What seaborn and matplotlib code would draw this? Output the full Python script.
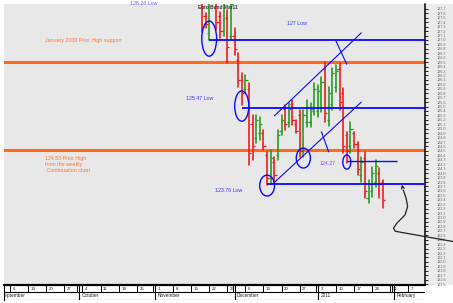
import numpy as np
import pandas as pd
import matplotlib
matplotlib.use("Agg")
import matplotlib.pyplot as plt
from matplotlib.patches import Ellipse, Rectangle
import seaborn as sns

# ---------------- data ----------------
dates = ["2010-11-18", "2010-11-19", "2010-11-22", "2010-11-24", "2010-11-25", "2010-11-26",
         "2010-11-29", "2010-11-30", "2010-12-01", "2010-12-02", "2010-12-03", "2010-12-06",
         "2010-12-07", "2010-12-08", "2010-12-09", "2010-12-10", "2010-12-13", "2010-12-14",
         "2010-12-15", "2010-12-16", "2010-12-17", "2010-12-20", "2010-12-21", "2010-12-22",
         "2010-12-23", "2010-12-24", "2010-12-27", "2010-12-28", "2010-12-29", "2010-12-30",
         "2010-12-31", "2011-01-03", "2011-01-04", "2011-01-05", "2011-01-06", "2011-01-07",
         "2011-01-10", "2011-01-11", "2011-01-12", "2011-01-13", "2011-01-14", "2011-01-17",
         "2011-01-18", "2011-01-19", "2011-01-20", "2011-01-21", "2011-01-24", "2011-01-25",
         "2011-01-26", "2011-01-27"]
highs = [128.10, 127.61, 128.20, 128.00, 127.63, 128.20,
         127.68, 128.00, 127.27, 126.71, 126.26, 126.21,
         126.03, 125.31, 125.31, 125.27, 124.97, 124.48,
         124.52, 124.36, 124.97, 125.31, 125.54, 125.58,
         125.65, 125.20, 125.42, 125.42, 125.65, 125.58,
         126.03, 125.99, 126.17, 126.50, 125.94, 126.37,
         126.44, 126.48, 125.92, 124.93, 125.15, 124.93,
         124.70, 124.36, 124.48, 123.85, 124.14, 124.30,
         124.12, 123.85]
lows = [127.18, 127.27, 127.00, 127.23, 127.05, 127.08,
        126.48, 127.02, 126.66, 125.94, 125.54, 125.81,
        124.18, 124.30, 124.68, 124.75, 124.52, 123.73,
        123.76, 123.78, 124.30, 124.86, 124.97, 125.04,
        125.09, 124.90, 124.36, 124.36, 125.04, 125.04,
        125.31, 125.27, 125.38, 125.15, 125.06, 125.42,
        125.83, 125.42, 124.46, 124.23, 124.46, 124.57,
        123.96, 123.80, 123.44, 123.33, 123.46, 123.69,
        123.44, 123.22]
opens = [127.95, 127.55, 127.15, 127.90, 127.55, 127.20,
         127.50, 127.10, 127.10, 126.55, 126.10, 125.90,
         125.90, 125.10, 124.80, 124.90, 124.90, 124.40,
         123.90, 124.25, 124.40, 124.95, 125.45, 125.15,
         125.55, 125.10, 125.30, 124.50, 125.15, 125.15,
         125.40, 125.40, 125.50, 126.35, 125.20, 125.55,
         125.95, 126.35, 125.80, 124.85, 124.60, 124.90,
         124.65, 123.95, 124.35, 123.45, 123.60, 123.80,
         124.00, 123.80]
closes = [127.30, 127.35, 127.90, 127.40, 127.20, 127.95,
          126.85, 127.80, 126.80, 126.10, 125.80, 126.10,
          124.45, 124.60, 125.20, 125.10, 124.60, 123.90,
          124.35, 123.95, 124.85, 125.20, 125.10, 125.45,
          125.20, 124.95, 124.50, 125.30, 125.50, 125.45,
          125.90, 125.85, 126.05, 125.35, 125.80, 126.25,
          126.30, 125.60, 124.60, 124.50, 125.00, 124.65,
          124.10, 124.25, 123.60, 123.75, 124.00, 124.15,
          123.75, 123.40]

axis_start = "2010-09-06"
week_dates = pd.date_range("2010-09-06", "2011-02-07", freq="7D")
week_labels = [str(d.day) for d in week_dates]
month_names = ["September", "October", "November", "December", "2011", "February"]
month_starts = ["2010-09-01", "2010-10-01", "2010-11-01", "2010-12-01", "2011-01-03", "2011-02-01"]

orange_levels = [126.50, 124.53]
blue_levels = [127.00, 125.47, 123.76]
blue_level_from = ["2010-11-22", "2010-12-03", "2010-12-14"]
short_level = 124.27
short_level_span = ["2011-01-13", "2011-02-01"]

# ---------------- helpers ----------------
def bidx(d):
    return float(np.busday_count(np.datetime64(axis_start), np.datetime64(d)))

x = np.array([bidx(d) for d in dates])
direction = np.where(np.array(closes) >= np.array(opens), "up", "down")

XMIN, XMAX = -1.66, 114.6
YMIN, YMAX = 121.48, 127.81

RED = "#f01414"
GREEN = "#1c9a1c"
ORANGE = "#ff6a1f"
BLUE = "#0a0aff"
TXT_BLUE = "#3535ff"
TXT_ORANGE = "#ff7433"

sns.set_style("white")
plt.rcParams["font.family"] = ["Liberation Sans", "DejaVu Sans"]

W, H = 453, 303
fig = plt.figure(figsize=(W / 100, H / 100), dpi=100, facecolor="white")
# tick-label strip background
fig.add_artist(Rectangle((425 / W, 18 / H), 28 / W, 281 / H, transform=fig.transFigure,
                         facecolor="#ebebeb", edgecolor="none", zorder=-5))

ax = fig.add_axes([4 / W, 18 / H, 421 / W, 281 / H])
ax.set_facecolor("#e8e8e8")
ax.set_xlim(XMIN, XMAX)
ax.set_ylim(YMIN, YMAX)

# orange support lines
for lv in orange_levels:
    ax.axhline(lv, color=ORANGE, lw=2.2, zorder=2)

# OHLC bars (high-low ranges via seaborn)
long = pd.DataFrame({
    "x": np.concatenate([x, x]),
    "price": np.concatenate([highs, lows]),
    "bar": np.concatenate([np.arange(len(x)), np.arange(len(x))]),
    "dir": np.concatenate([direction, direction]),
})
sns.lineplot(data=long, x="x", y="price", hue="dir", units="bar", estimator=None,
             palette={"up": GREEN, "down": RED}, legend=False, lw=1.15, ax=ax, zorder=3)
cols = [GREEN if d == "up" else RED for d in direction]
ax.hlines(opens, x - 0.6, x, colors=cols, lw=0.9, zorder=3)
ax.hlines(closes, x, x + 0.6, colors=cols, lw=0.9, zorder=3)

# blue horizontal levels
for lv, d0 in zip(blue_levels, blue_level_from):
    ax.hlines(lv, bidx(d0), XMAX, colors=BLUE, lw=1.3, zorder=4)
ax.hlines(short_level, bidx(short_level_span[0]), bidx(short_level_span[1]) + 0.8,
          colors=BLUE, lw=1.0, zorder=4)

# ellipses
ell = [("2010-11-22", 127.03, 4.1, 0.79), ("2010-12-03", 125.51, 3.9, 0.68),
       ("2010-12-14", 123.72, 4.1, 0.47), ("2010-12-28", 124.34, 3.9, 0.45),
       ("2011-01-13", 124.25, 2.2, 0.32)]
for d, p, w, h in ell:
    ax.add_patch(Ellipse((bidx(d), p), w, h, fill=False, edgecolor=BLUE, lw=1.0, zorder=5))

# trend channel
trend = [(("2010-12-16", 125.29), ("2011-01-19", 127.16)),
         (("2010-12-16", 123.79), ("2011-01-19", 125.60)),
         (("2011-01-10", 126.98), ("2011-01-13", 126.45)),
         (("2011-01-04", 124.93), ("2011-01-06", 124.48))]
for (d0, p0), (d1, p1) in trend:
    ax.plot([bidx(d0), bidx(d1)], [p0, p1], color=BLUE, lw=0.8, zorder=5)

# curved arrow
arrow_x = [122.3, 106.4, 105.9, 106.8, 109.1, 109.8, 109.4, 108.6]
arrow_y = [122.46, 122.69, 122.76, 122.87, 123.06, 123.25, 123.43, 123.62]
ax.plot(arrow_x, arrow_y, color="#222222", lw=0.9, clip_on=False, zorder=6)
ax.annotate("", xy=(108.2, 123.74), xytext=(arrow_x[-1], arrow_y[-1]),
            arrowprops=dict(arrowstyle="->", color="#222222", lw=0.9, mutation_scale=5),
            annotation_clip=False, zorder=6)

# texts
fs = 3.8
ax.text(9.7, 126.98, "January 2009 Prior High support", color=TXT_ORANGE, fontsize=fs,
        ha="left", va="center")
ax.text(9.7, 124.39, "124.53 Prior High\nfrom the weekly\n Continuation chart", color=TXT_ORANGE,
        fontsize=fs, ha="left", va="top", linespacing=1.25)
ax.text(48.6, 125.69, "125.47 Low", color=TXT_BLUE, fontsize=fs, ha="left", va="center")
ax.text(76.5, 127.38, "127 Low", color=TXT_BLUE, fontsize=fs, ha="left", va="center")
ax.text(56.6, 123.62, "123.76 Low", color=TXT_BLUE, fontsize=fs, ha="left", va="center")
ax.text(85.4, 124.21, "124.27", color="#8a3cff", fontsize=fs, ha="left", va="center")
ax.text(33.1, 127.82, "128.28 Low", color="#7a5cff", fontsize=fs, ha="left", va="center",
        clip_on=False)
ax.text(51.9, 127.74, "Euro Bund Mar11", color="#333333", fontsize=3.4, ha="left",
        va="center", fontweight="bold", zorder=7)

# right price axis
for s in ["left", "top", "bottom"]:
    ax.spines[s].set_visible(False)
ax.spines["right"].set_color("black")
ax.spines["right"].set_linewidth(1.1)
ax.yaxis.tick_right()
yt = np.round(np.arange(121.5, 127.75, 0.1), 1)
ax.set_yticks(yt)
ax.set_yticklabels([f"{v:.1f}" for v in yt])
ax.tick_params(axis="y", direction="out", length=2.2, width=0.6, pad=6, labelsize=2.7,
               labelcolor="#666666", colors="black")
ax.tick_params(axis="y", labelcolor="#666666")
ax.set_xticks([])
ax.set_xlabel("")
ax.set_ylabel("")

# date axis boxes
ax2 = fig.add_axes([4 / W, 3 / H, 421 / W, 15 / H])
ax2.set_facecolor("white")
ax2.set_xlim(XMIN, XMAX)
ax2.set_ylim(0, 2)
ax2.set_xticks([])
ax2.set_yticks([])
for s in ["top", "right", "bottom"]:
    ax2.spines[s].set_visible(False)
ax2.spines["left"].set_linewidth(0.8)
ax2.spines["left"].set_color("black")
ax2.axhline(2, color="black", lw=1.6, clip_on=False)
ax2.axhline(1.07, color="black", lw=0.8)
ax2.axhline(0.05, color="black", lw=0.8)
for d, lab in zip(week_dates, week_labels):
    wx = bidx(d.strftime("%Y-%m-%d"))
    ax2.vlines(wx, 1.07, 2, color="black", lw=0.7)
    ax2.text(wx + 0.7, 1.5, lab, fontsize=3.2, ha="left", va="center", color="#222222",
             clip_on=True)
for d, lab in zip(month_starts, month_names):
    mx = bidx(d)
    ax2.vlines(mx, 0.05, 2, color="black", lw=0.8)
    ax2.vlines(mx - 0.5, 1.07, 2, color="black", lw=0.7)
    ax2.text(mx + 0.7, 0.55, lab, fontsize=3.4, ha="left", va="center", color="#222222",
             clip_on=True)

fig.savefig("out.png", dpi=100, facecolor="white")
